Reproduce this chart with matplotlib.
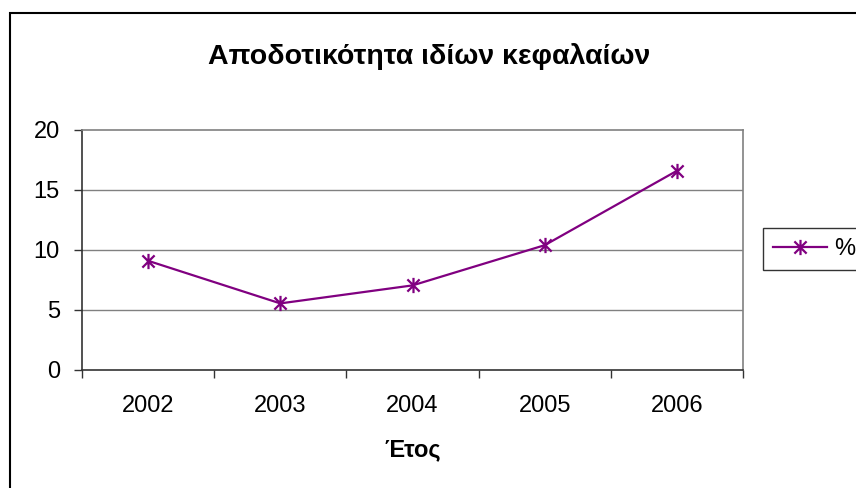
import matplotlib.pyplot as plt
from matplotlib.path import Path
from matplotlib.patches import Rectangle

# return on equity per year
years = ['2002', '2003', '2004', '2005', '2006']
roe = [9.1, 5.55, 7.05, 10.4, 16.6]
y_ticks = [0, 5, 10, 15, 20]

plt.rcParams['font.family'] = ['Liberation Sans', 'DejaVu Sans']

# star marker: vertical bar plus an X
star = Path([(0, -1), (0, 1), (-0.8, -0.8), (0.8, 0.8), (-0.8, 0.8), (0.8, -0.8)],
            [Path.MOVETO, Path.LINETO, Path.MOVETO, Path.LINETO, Path.MOVETO, Path.LINETO])

W, H = 856, 488
fig = plt.figure(figsize=(W / 100, H / 100), dpi=100)
ax = fig.add_axes([82 / W, 1 - 370 / H, (743 - 82) / W, (370 - 130) / H])

x = list(range(len(years)))
ax.plot(x, roe, color='#800080', lw=1.6, marker=star, ms=11, mew=1.6, label='%')

ax.set_xlim(-0.5, len(years) - 0.5)
ax.set_ylim(0, 20)
ax.set_yticks(y_ticks)
ax.set_xticks([i - 0.5 for i in range(len(years) + 1)])
ax.set_xticklabels([])
ax.set_xticks(x, minor=True)
ax.set_xticklabels(years, minor=True)
ax.tick_params(axis='x', which='minor', length=0, pad=18, labelsize=17)
ax.tick_params(axis='x', which='major', length=6, width=1, color='#333333')
ax.tick_params(axis='y', length=6, width=1, color='#333333', pad=10, labelsize=17)

for v in y_ticks[1:-1]:
    ax.axhline(v, color='#808080', lw=1, zorder=0)

ax.spines['left'].set_color('#333333')
ax.spines['bottom'].set_color('#333333')
ax.spines['top'].set_color('#808080')
ax.spines['right'].set_color('#808080')
for s in ax.spines.values():
    s.set_linewidth(1.2)

ax.set_xlabel('Έτος', fontsize=17, fontweight='bold', labelpad=15)

fig.text(429 / W, 1 - 56 / H, 'Αποδοτικότητα ιδίων κεφαλαίων', ha='center', va='center',
         fontsize=20.5, fontweight='bold')

# chart frame
fig.patches.append(Rectangle((10 / W, -0.1), 1.2, 1 - 13 / H + 0.1, transform=fig.transFigure,
                             fill=False, ec='black', lw=1.5))

leg = fig.legend(loc='upper left', bbox_to_anchor=(763 / W, 1 - 228 / H), fontsize=17,
                 frameon=True, fancybox=False, edgecolor='black', handlelength=2.3,
                 borderpad=0.42, handletextpad=0.3, borderaxespad=0)
leg.get_frame().set_linewidth(1)

fig.savefig('out.png', dpi=100)
